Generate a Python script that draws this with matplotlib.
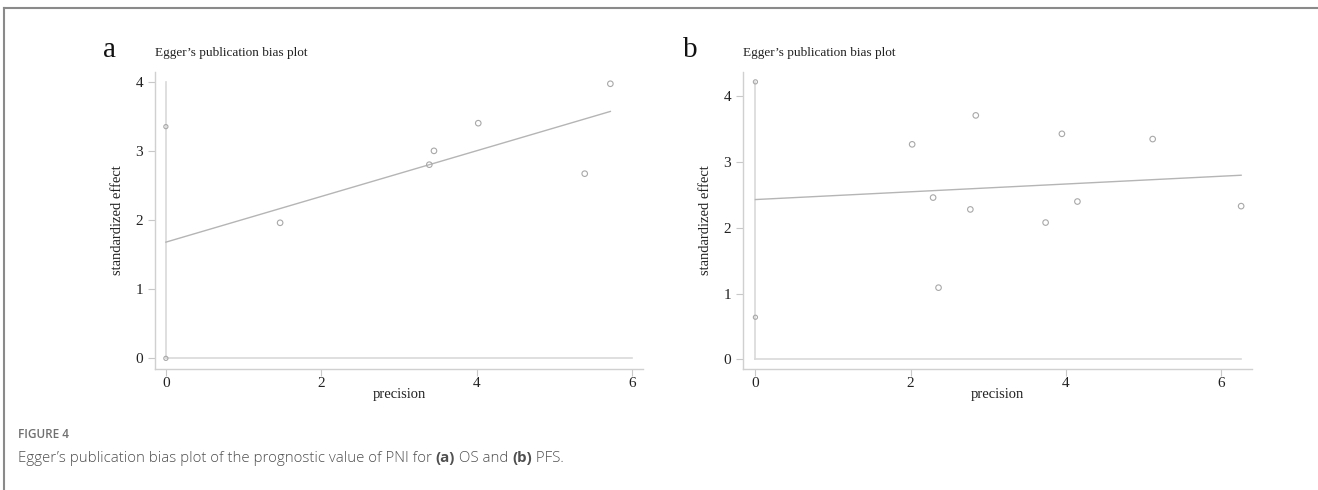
import numpy as np
import matplotlib
matplotlib.use("Agg")
import matplotlib.pyplot as plt
from matplotlib.lines import Line2D

# panel a (OS)
a_prec = [1.47, 3.39, 3.45, 4.02, 5.39, 5.72]
a_eff = [1.96, 2.80, 3.00, 3.40, 2.67, 3.97]
a_zero_eff = [3.35, 0.0]
a_fit = [1.68, 3.57]

# panel b (PFS)
b_prec = [2.02, 2.29, 2.36, 2.77, 2.84, 3.74, 3.95, 4.15, 5.12, 6.26]
b_eff = [3.27, 2.46, 1.09, 2.28, 3.71, 2.08, 3.43, 2.40, 3.35, 2.33]
b_zero_eff = [4.22, 0.64]
b_fit = [2.43, 2.80]

xticks = [0, 2, 4, 6]
yticks = [0, 1, 2, 3, 4]

serif = ["Liberation Serif", "DejaVu Serif"]
sans = ["Open Sans", "DejaVu Sans"]

fig = plt.figure(figsize=(13.18, 4.9), dpi=100)

# frame lines (top and left)
fig.add_artist(Line2D([4 / 1318, 1], [1 - 8 / 490, 1 - 8 / 490], color="#8a8a8a", lw=1.5))
fig.add_artist(Line2D([4 / 1318, 4 / 1318], [0, 1 - 8 / 490], color="#8a8a8a", lw=1.5))


def egger_panel(rect, prec, eff, zero_eff, fit, xlim, ylim, letter, letter_x):
    ax = fig.add_axes(rect)
    xmax = max(prec)
    ytop = max(max(eff), max(zero_eff), 4.0)
    # reference axes inside the plot
    ax.plot([0, 0], [0, ytop], color="#d9d9d9", lw=1.2, zorder=1)
    ax.plot([0, max(xmax, 6)], [0, 0], color="#d9d9d9", lw=1.2, zorder=1)
    # regression line
    ax.plot([0, xmax], fit, color="#b5b5b5", lw=1.0, zorder=2)
    ax.scatter(prec, eff, s=16, facecolors="none", edgecolors="#a8a8a8", linewidths=0.8, zorder=3)
    ax.scatter([0] * len(zero_eff), zero_eff, s=9, facecolors="none", edgecolors="#a8a8a8",
               linewidths=0.8, zorder=3)
    ax.set_xlim(*xlim)
    ax.set_ylim(*ylim)
    ax.set_xticks(xticks)
    ax.set_yticks(yticks)
    for s in ["top", "right"]:
        ax.spines[s].set_visible(False)
    for s in ["left", "bottom"]:
        ax.spines[s].set_color("#d0d0d0")
        ax.spines[s].set_linewidth(1.0)
    ax.tick_params(colors="#c8c8c8", length=5, width=0.8, labelcolor="#222222", labelsize=11)
    ax.tick_params(axis="x", pad=1)
    for lab in ax.get_xticklabels() + ax.get_yticklabels():
        lab.set_fontfamily(serif)
    ax.set_xlabel("precision", fontsize=10.5, family=serif, color="#222222", labelpad=-2)
    ax.set_ylabel("standardized effect", fontsize=10.5, family=serif, color="#222222", labelpad=8)
    ax.text(0.0, 1.045, "Egger\u2019s publication bias plot", transform=ax.transAxes,
            fontsize=9.5, family=serif, color="#222222", ha="left", va="bottom")
    fig.text(letter_x, 1 - 50 / 490, letter, fontsize=21, family=serif, color="#111111",
             ha="center", va="center")
    return ax


egger_panel([155 / 1318, 1 - 369 / 490, 488 / 1318, 297 / 490], a_prec, a_eff, a_zero_eff, a_fit,
            (-0.14, 6.14), (-0.154, 4.14), "a", 110 / 1318)
egger_panel([743 / 1318, 1 - 369 / 490, 509 / 1318, 297 / 490], b_prec, b_eff, b_zero_eff, b_fit,
            (-0.16, 6.40), (-0.147, 4.37), "b", 690 / 1318)

# caption
fig.text(18 / 1318, 1 - 434 / 490, "FIGURE 4", fontsize=8.5, family=sans, weight="semibold",
         color="#707070", ha="left", va="center")

pieces = [
    ("Egger\u2019s publication bias plot of the prognostic value of PNI for ", "light"),
    ("(a)", "bold"),
    (" OS and ", "light"),
    ("(b)", "bold"),
    (" PFS.", "light"),
]
fig.canvas.draw()
renderer = fig.canvas.get_renderer()
x = 18 / 1318
for txt, w in pieces:
    t = fig.text(x, 1 - 458 / 490, txt, fontsize=10.8, family=sans, weight=w, color="#505050",
                 ha="left", va="center")
    bb = t.get_window_extent(renderer=renderer)
    x += bb.width / fig.bbox.width

fig.savefig("out.png", dpi=100)
